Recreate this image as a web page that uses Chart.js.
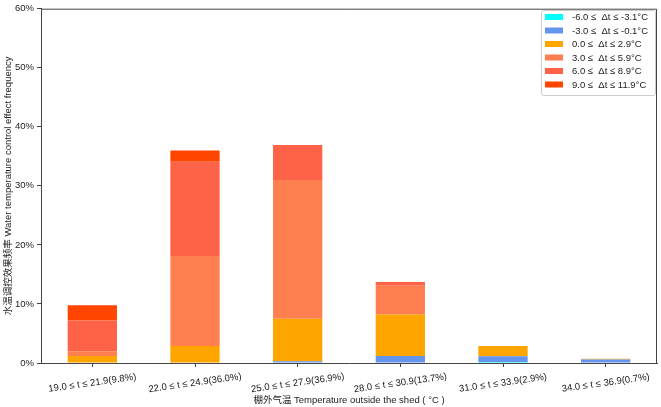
<!DOCTYPE html>
<html>
<head>
<meta charset="utf-8">
<script src="https://cdn.jsdelivr.net/npm/chart.js@4/dist/chart.umd.min.js"></script>
<style>
    html, body { margin: 0; padding: 0; background: #fff; }
    #wrap { width: 661px; height: 407px; }
</style>
</head>
<body>
<div id="wrap"><canvas id="freq-chart" width="661" height="407"></canvas></div>
<script>
const categories = [
    "19.0 ≤ t ≤ 21.9(9.8%)",
    "22.0 ≤ t ≤ 24.9(36.0%)",
    "25.0 ≤ t ≤ 27.9(36.9%)",
    "28.0 ≤ t ≤ 30.9(13.7%)",
    "31.0 ≤ t ≤ 33.9(2.9%)",
    "34.0 ≤ t ≤ 36.9(0.7%)"
];
const seriesLabels = [
    "-6.0 ≤  Δt ≤ -3.1°C",
    "-3.0 ≤  Δt ≤ -0.1°C",
    "0.0 ≤  Δt ≤ 2.9°C",
    "3.0 ≤  Δt ≤ 5.9°C",
    "6.0 ≤  Δt ≤ 8.9°C",
    "9.0 ≤  Δt ≤ 11.9°C"
];
const seriesColors = ["#00ffff", "#6495ed", "#ffa500", "#ff7f50", "#ff6347", "#ff4500"];

const dtMinus6 = [0, 0, 0, 0, 0.15, 0];
const dtMinus3 = [0, 0, 0.3, 1.2, 1.0, 0.6];
const dt0 = [1.2, 2.9, 7.2, 7.0, 1.75, 0.1];
const dt3 = [0.8, 15.2, 23.5, 4.9, 0, 0];
const dt6 = [5.2, 16.0, 5.9, 0.6, 0, 0];
const dt9 = [2.6, 1.9, 0, 0, 0, 0];
const seriesValues = [dtMinus6, dtMinus3, dt0, dt3, dt6, dt9];

const yTicks = [0, 10, 20, 30, 40, 50, 60];

const FONT = "'Liberation Sans', Arial, 'Noto Sans CJK SC', sans-serif";
const TEXT = "#222";
const AXIS = "#444";

// cadre haut / droite + étiquettes x inclinées + légende
const framePlugin = {
    id: "frame",
    afterDraw(chart) {
        const { ctx, chartArea } = chart;
        const xScale = chart.scales.x;
        ctx.save();
        ctx.strokeStyle = AXIS;
        ctx.lineWidth = 1;
        ctx.beginPath();
        ctx.moveTo(chartArea.left, chartArea.top + 0.5);
        ctx.lineTo(chartArea.right - 0.5, chartArea.top + 0.5);
        ctx.lineTo(chartArea.right - 0.5, chartArea.bottom);
        ctx.stroke();

        ctx.font = "9.5px " + FONT;
        ctx.fillStyle = TEXT;
        ctx.textAlign = "center";
        ctx.textBaseline = "middle";
        categories.forEach((label, i) => {
            const x = xScale.getPixelForValue(i);
            ctx.save();
            ctx.translate(x, chartArea.bottom + 20);
            ctx.rotate(-8 * Math.PI / 180);
            ctx.fillText(label, 0, 0);
            ctx.restore();
        });

        // légende
        const lx = 541, ly = 10, lw = 114, lh = 85;
        ctx.fillStyle = "rgba(255,255,255,0.85)";
        ctx.strokeStyle = "#cccccc";
        ctx.beginPath();
        ctx.roundRect(lx + 0.5, ly + 0.5, lw, lh, 2);
        ctx.fill();
        ctx.stroke();
        ctx.textAlign = "left";
        chart.data.datasets.forEach((ds, i) => {
            const cy = ly + 7 + i * 13.5;
            ctx.fillStyle = ds.backgroundColor;
            ctx.fillRect(lx + 4, cy - 3, 18, 6);
            ctx.fillStyle = TEXT;
            ctx.fillText(ds.label, lx + 31, cy + 0.5);
        });
        ctx.restore();
    }
};

const ctx = document.getElementById("freq-chart").getContext("2d");

new Chart(ctx, {
    type: "bar",
    data: {
        labels: categories,
        datasets: seriesLabels.map((label, i) => ({
            label: label,
            data: seriesValues[i],
            backgroundColor: seriesColors[i],
            borderWidth: 0,
            barPercentage: 0.48,
            categoryPercentage: 1.0,
        })),
    },
    options: {
        responsive: false,
        animation: false,
        layout: {
            padding: { top: 5, right: 4, left: 0, bottom: 0 },
        },
        plugins: {
            legend: { display: false },
            tooltip: { enabled: false },
        },
        scales: {
            x: {
                stacked: true,
                grid: {
                    offset: false,
                    drawOnChartArea: false,
                    drawTicks: true,
                    tickLength: 4,
                    color: AXIS,
                },
                border: { display: true, color: AXIS, width: 1 },
                ticks: {
                    callback: () => "",
                },
                title: {
                    display: true,
                    text: "棚外气温 Temperature outside the shed ( °C )",
                    color: TEXT,
                    font: { family: FONT, size: 9.5 },
                    padding: { top: 0, bottom: 1 },
                },
                afterFit(scale) {
                    scale.height = 44;
                },
            },
            y: {
                stacked: true,
                min: 0,
                max: 60,
                afterBuildTicks(scale) {
                    scale.ticks = yTicks.map(v => ({ value: v }));
                },
                grid: {
                    drawOnChartArea: false,
                    drawTicks: true,
                    tickLength: 4,
                    color: AXIS,
                },
                border: { display: true, color: AXIS, width: 1 },
                ticks: {
                    color: TEXT,
                    padding: 3,
                    font: { family: FONT, size: 9.5 },
                    callback: v => v + "%",
                },
                title: {
                    display: true,
                    text: "水温调控效果频率 Water temperature control effect frequency",
                    color: TEXT,
                    font: { family: FONT, size: 9.5 },
                    padding: { top: 3, bottom: 0 },
                },
                afterFit(scale) {
                    scale.width = 41;
                },
            },
        },
    },
    plugins: [framePlugin],
});
</script>
</body>
</html>
